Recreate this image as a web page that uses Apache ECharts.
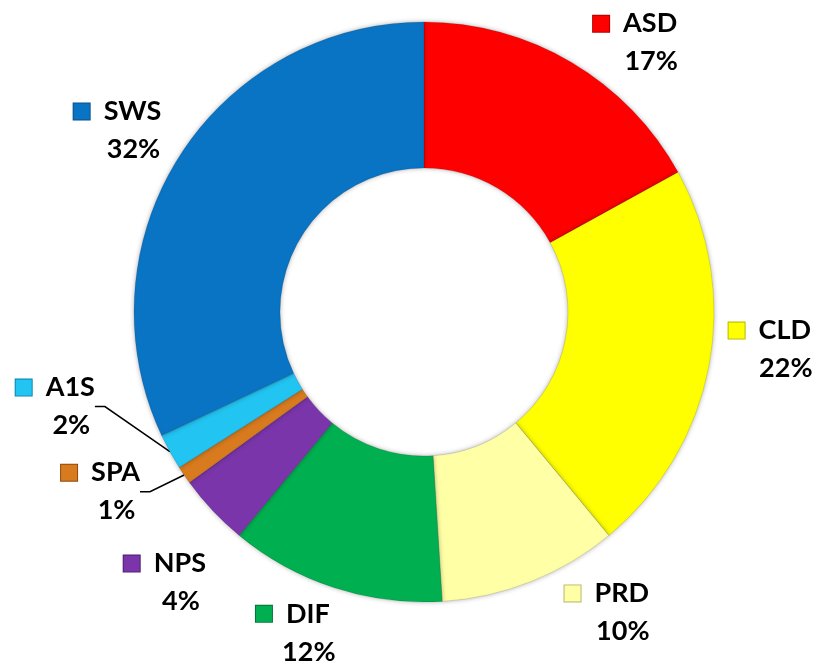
<!DOCTYPE html>
<html>
<head>
<meta charset="utf-8">
<script src="https://cdn.jsdelivr.net/npm/echarts@6/dist/echarts.min.js"></script>
<style>
  html, body { margin: 0; padding: 0; background: #fff; }
  #main { width: 820px; height: 667px; }
</style>
</head>
<body>
<div id="main"></div>
<script>
var names = ['ASD', 'CLD', 'PRD', 'DIF', 'NPS', 'SPA', 'A1S', 'SWS']
var values = [17, 22, 10, 12, 4, 1, 2, 32]
var colors = ['#FF0000', '#FFFF00', '#FFFFA6', '#00B050', '#7A35AA', '#D87A1E', '#22C4F2', '#0A74C4']
var squareBorders = ['#B00000', '#B8B800', '#B8B870', '#00753A', '#4E1F70', '#8E4A0C', '#0A86B0', '#084F88']

// only the two thin slices get a leader line
var showLine = ['A1S', 'SPA']
// label shift from the default spot (px)
var labelNudge = {
  ASD: [33, 32], CLD: [2, -28], PRD: [54, -25], DIF: [-23, -12],
  NPS: [-4, 31], SPA: [-34, -17], A1S: [-62, -74], SWS: [-11, 6]
}

var cx = 424
var cy = 312
var rIn = 144
var rOut = 290

var total = values.reduce(function (a, b) { return a + b }, 0)
var cum = []
var acc = 0
values.forEach(function (v) { cum.push(acc); acc += v })

var rich = {
  gap: { width: 14 },
  pad: { width: 32 },
  name: { fontSize: 27, fontWeight: 'bold', fontFamily: 'Lato', color: '#000', lineHeight: 38 },
  pct: { fontSize: 27, fontWeight: 'bold', fontFamily: 'Lato', color: '#000', lineHeight: 38 }
}
colors.forEach(function (c, i) {
  rich['sq' + i] = {
    width: 16, height: 16,
    backgroundColor: c,
    borderColor: squareBorders[i],
    borderWidth: 1
  }
})

var data = names.map(function (n, i) {
  return {
    name: n,
    value: values[i],
    itemStyle: { color: colors[i] },
    labelLine: { show: showLine.indexOf(n) >= 0 }
  }
})

var chart = echarts.init(document.getElementById('main'))
chart.setOption({
  backgroundColor: '#fff',
  animation: false,
  series: [{
    type: 'pie',
    center: [cx, cy],
    radius: [rIn, rOut],
    startAngle: 90,
    clockwise: true,
    data: data,
    itemStyle: {
      borderColor: 'rgba(0,0,0,0.12)',
      borderWidth: 1,
      shadowColor: 'rgba(0,0,0,0.3)',
      shadowBlur: 5
    },
    label: {
      show: true,
      position: 'outside',
      overflow: 'none',
      formatter: function (p) {
        return '{sq' + p.dataIndex + '|}{gap|}{name|' + p.name + '}\n{pad|}{pct|' + Math.round(p.percent) + '%}'
      },
      rich: rich
    },
    labelLine: {
      length: 10,
      length2: 10,
      lineStyle: { color: '#000', width: 1.5 }
    },
    labelLayout: function (params) {
      var i = params.dataIndex
      var mid = (cum[i] + values[i] / 2) / total * Math.PI * 2
      var d = rOut + 60
      var nudge = labelNudge[names[i]] || [0, 0]
      return {
        x: cx + d * Math.sin(mid) + nudge[0],
        y: cy - d * Math.cos(mid) + nudge[1],
        align: 'center',
        verticalAlign: 'middle'
      }
    }
  }]
})
</script>
</body>
</html>
